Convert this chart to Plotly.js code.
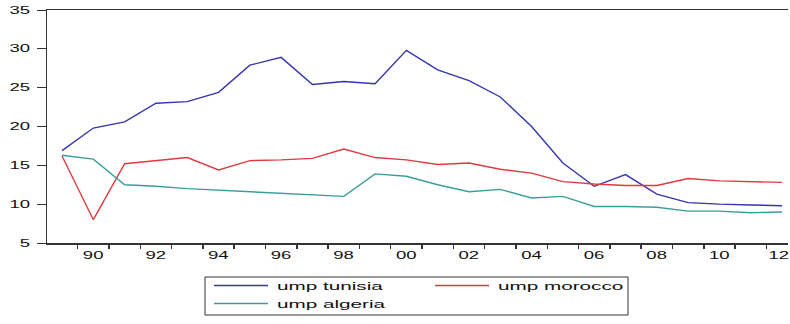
<!DOCTYPE html>
<html>
<head>
<meta charset="utf-8">
<script src="https://cdn.plot.ly/plotly-3.0.1.min.js"></script>
<style>
  html, body { margin: 0; padding: 0; background: #ffffff; }
  #chart { width: 790px; height: 324px; }
</style>
</head>
<body>
<div id="chart"></div>
<script>
var years = [1989, 1990, 1991, 1992, 1993, 1994, 1995, 1996, 1997, 1998, 1999, 2000,
             2001, 2002, 2003, 2004, 2005, 2006, 2007, 2008, 2009, 2010, 2011, 2012];

var umpTunisia = [16.9, 19.8, 20.6, 23.0, 23.2, 24.4, 27.9, 28.9, 25.4, 25.8, 25.5, 29.8,
                  27.3, 25.9, 23.8, 20.0, 15.3, 12.3, 13.8, 11.3, 10.2, 10.0, 9.9, 9.8];

var umpMorocco = [16.2, 8.0, 15.2, 15.6, 16.0, 14.4, 15.6, 15.7, 15.9, 17.1, 16.0, 15.7,
                  15.1, 15.3, 14.5, 14.0, 12.9, 12.6, 12.4, 12.4, 13.3, 13.0, 12.9, 12.8];

var umpAlgeria = [16.3, 15.8, 12.5, 12.3, 12.0, 11.8, 11.6, 11.4, 11.2, 11.0, 13.9, 13.6,
                  12.5, 11.6, 11.9, 10.8, 11.0, 9.7, 9.7, 9.6, 9.1, 9.1, 8.9, 9.0];

var seriesNames = ['ump tunisia', 'ump morocco', 'ump algeria'];

var labelYears = [1990, 1992, 1994, 1996, 1998, 2000, 2002, 2004, 2006, 2008, 2010, 2012];
var labelText = ['90', '92', '94', '96', '98', '00', '02', '04', '06', '08', '10', '12'];

var yTicks = [5, 10, 15, 20, 25, 30, 35];

// tick marks sit between years
var minorTicks = years.map(function (y) { return y + 0.5; }).filter(function (v) { return v < 2012.19; });

var colors = ['#3535b0', '#e03a40', '#3a9e98'];

var data = [
  { x: years, y: umpTunisia, name: seriesNames[0], type: 'scatter', mode: 'lines',
    line: { color: colors[0], width: 1.4 }, legend: 'legend' },
  { x: years, y: umpMorocco, name: seriesNames[1], type: 'scatter', mode: 'lines',
    line: { color: colors[1], width: 1.4 }, legend: 'legend2' },
  { x: years, y: umpAlgeria, name: seriesNames[2], type: 'scatter', mode: 'lines',
    line: { color: colors[2], width: 1.4 }, legend: 'legend3' }
];

function px2x(px) { return (px - 47) / 741; }
function px2y(py) { return (243 - py) / 233; }

var legFont = { family: 'Liberation Sans, Arial, sans-serif', size: 11.5, color: '#111' };
function legendAt(lx, ty) {
  return { x: px2x(lx), y: px2y(ty), xanchor: 'left', yanchor: 'top',
           orientation: 'h', bgcolor: 'rgba(0,0,0,0)', borderwidth: 0, font: legFont };
}

var layout = {
  width: 790, height: 324,
  margin: { l: 47, r: 2, t: 10, b: 81, autoexpand: false },
  paper_bgcolor: '#ffffff', plot_bgcolor: '#ffffff',
  showlegend: true,
  hovermode: false,
  xaxis: {
    range: [1988.52, 2012.19],
    tickmode: 'array', tickvals: labelYears, ticktext: labelText,
    ticks: '', showgrid: false, zeroline: false, ticklabelstandoff: 3,
    showline: true, linecolor: '#333', linewidth: 1.5, mirror: true,
    tickfont: { family: 'Liberation Sans, Arial, sans-serif', size: 10, color: '#111' },
    minor: { tickmode: 'array', tickvals: minorTicks, ticks: 'outside', ticklen: 4,
             tickwidth: 1.5, tickcolor: '#333', showgrid: false }
  },
  yaxis: {
    range: [5, 35],
    tickmode: 'array', tickvals: yTicks,
    ticks: 'outside', ticklen: 9, tickwidth: 1, tickcolor: '#333',
    showgrid: false, zeroline: false, ticklabelstandoff: 4,
    showline: true, linecolor: '#333', linewidth: 1.5,
    tickfont: { family: 'Liberation Sans, Arial, sans-serif', size: 10, color: '#111' }
  },
  legend: legendAt(205, 271),
  legend2: legendAt(426, 271),
  legend3: legendAt(205, 289),
  shapes: [
    { type: 'rect', xref: 'paper', yref: 'paper',
      x0: px2x(205), x1: px2x(628), y0: px2y(277), y1: px2y(315),
      line: { color: '#333', width: 1 }, fillcolor: 'rgba(0,0,0,0)' }
  ]
};

Plotly.newPlot('chart', data, layout, { staticPlot: true, responsive: false }).then(function (gd) {
  var S_TICK = 1.85, S_LEG = 1.8;
  gd.querySelectorAll('.xtick text, .ytick text').forEach(function (t) {
    var bb = t.getBBox();
    var anchor = t.getAttribute('text-anchor') || 'start';
    var cx = anchor === 'middle' ? bb.x + bb.width / 2 : (anchor === 'end' ? bb.x + bb.width : bb.x);
    var tr = t.getAttribute('transform') || '';
    t.setAttribute('transform', tr + ' translate(' + cx + ',0) scale(' + S_TICK + ',1) translate(' + (-cx) + ',0)');
    // keep a label that would spill past the right edge inside the picture
    var r = t.getBoundingClientRect();
    var limit = 789;
    if (r.right > limit) {
      t.setAttribute('transform', 'translate(' + (limit - r.right) + ',0) ' + t.getAttribute('transform'));
    }
  });
  gd.querySelectorAll('.infolayer > g').forEach(function (g) {
    var c = g.getAttribute('class') || '';
    if (/^legend\d*$/.test(c)) {
      g.setAttribute('transform', (g.getAttribute('transform') || '') + ' scale(' + S_LEG + ',1)');
    }
  });
});
</script>
</body>
</html>
